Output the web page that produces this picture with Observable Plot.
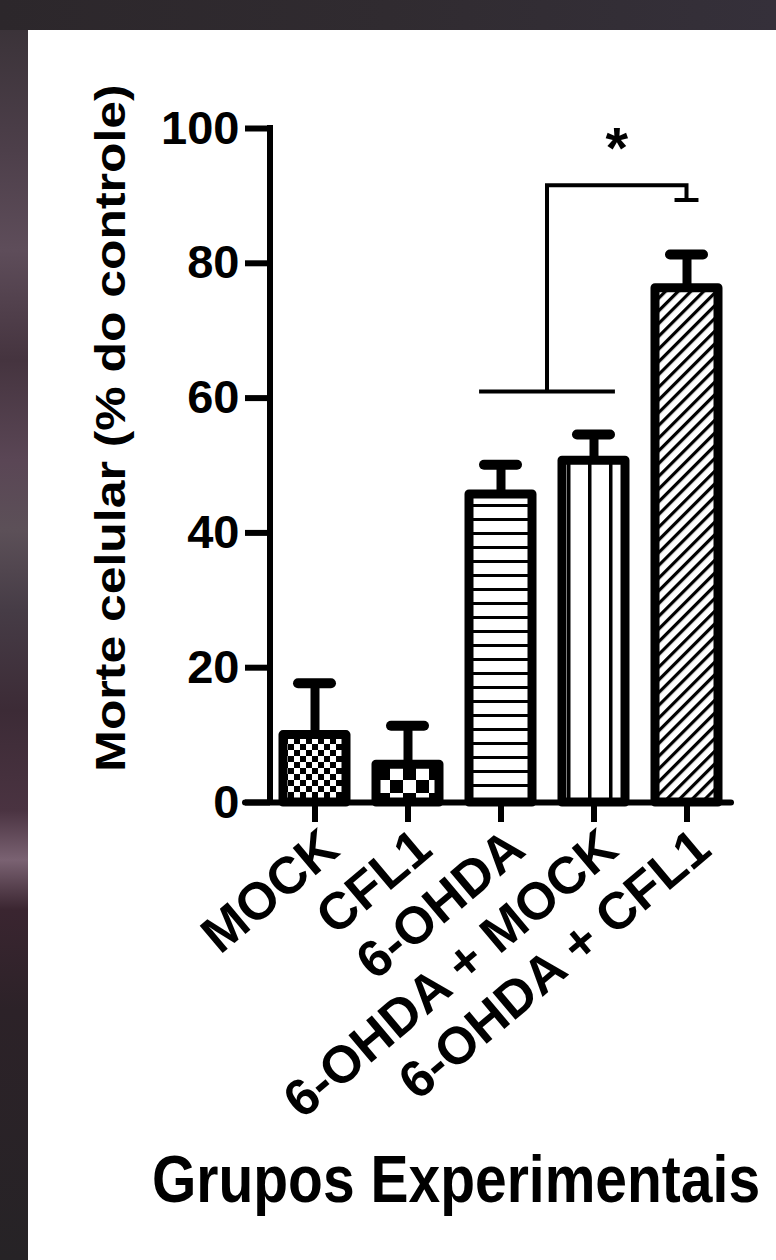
<!DOCTYPE html>
<html>
<head>
<meta charset="utf-8">
<script src="https://cdn.jsdelivr.net/npm/d3@7"></script>
<script src="https://cdn.jsdelivr.net/npm/@observablehq/plot@0.6"></script>
<style>
  html, body { margin: 0; padding: 0; width: 776px; height: 1260px; overflow: hidden; }
  body {
    position: relative;
    background: linear-gradient(90deg, #2c272b 0%, #302b30 50%, #35303a 100%);
    font-family: "Liberation Sans", Arial, sans-serif;
  }
  #leftstrip {
    position: absolute; left: 0; top: 30px; width: 28px; bottom: 0;
    background: linear-gradient(180deg,
      #3b3339 0px, #4d3f4a 120px, #5e4d5a 220px, #45343f 330px, #5a4655 430px,
      #5c5058 500px, #463c46 580px, #3c2b36 680px, #4a3341 780px, #7a6272 830px,
      #3a2530 880px, #2c2228 980px, #262326 1230px);
  }
  #panel { position: absolute; left: 28px; top: 30px; right: 0; bottom: 0; background: #ffffff; }
  #chart { position: absolute; left: 0; top: 0; }
  .ytitle {
    position: absolute; left: 110px; top: 428px; white-space: nowrap;
    font-weight: bold; font-size: 43px; line-height: 1; color: #000;
    transform: translate(-50%, -50%) rotate(-90deg) scaleX(1.16);
  }
  .xtitle {
    position: absolute; left: 456px; top: 1146px; white-space: nowrap;
    font-weight: bold; font-size: 57px; line-height: 57px; color: #000;
    transform-origin: 50% 0; transform: translate(-50%, 0) scaleY(1.17);
  }
</style>
</head>
<body>
<div id="leftstrip"></div>
<div id="panel"></div>
<div id="chart"></div>
<div class="ytitle">Morte celular (% do controle)</div>
<div class="xtitle">Grupos Experimentais</div>
<script>
// ---- data ----
const groups = ["MOCK", "CFL1", "6-OHDA", "6-OHDA + MOCK", "6-OHDA + CFL1"];
const means  = [10.0, 5.6, 45.7, 50.7, 76.3];
const errors = [7.7, 5.8, 4.4, 3.9, 5.0];
const yTicks = [0, 20, 40, 60, 80, 100];
const patternIds = ["pat-fine-check", "pat-coarse-check", "pat-hlines", "pat-vlines", "pat-diag"];

// significance bracket: (6-OHDA, 6-OHDA + MOCK) vs 6-OHDA + CFL1
const sigFrom = ["6-OHDA", "6-OHDA + MOCK"];
const sigTo = "6-OHDA + CFL1";
const sigLow = 60.9;   // lower horizontal bar
const sigTop = 91.5;   // upper horizontal bar
const sigEnd = 89.3;   // end of the right drop
const sigLabel = "*";

const data = groups.map((g, i) => ({
  group: g,
  mean: means[i],
  hi: means[i] + errors[i],
  pattern: `url(#${patternIds[i]})`
}));

// vertical y-axis line drawn through the y scale at the frame's left edge
function yAxisLine(index, scales, values, dims) {
  const y = scales.y;
  const x0 = dims.marginLeft;
  return d3.create("svg:path")
    .attr("fill", "none").attr("stroke", "black").attr("stroke-width", 6)
    .attr("stroke-linecap", "square")
    .attr("d", `M${x0},${y(d3.max(yTicks))}V${y(d3.min(yTicks))}`)
    .node();
}

function sigBracket(index, scales) {
  const x = scales.x, y = scales.y;
  const bw = typeof x.bandwidth === "function" ? x.bandwidth() : 0;
  const cx = (g) => x(g) + bw / 2;
  const xa = cx(sigFrom[0]), xb = cx(sigFrom[1]), xr = cx(sigTo);
  const xm = (xa + xb) / 2;
  const ext = bw * 0.34;
  const g = d3.create("svg:g");
  g.append("path")
    .attr("fill", "none").attr("stroke", "black").attr("stroke-width", 4)
    .attr("d",
      `M${xa - ext},${y(sigLow)}H${xb + ext}` +
      `M${xm},${y(sigLow)}V${y(sigTop)}H${xr}V${y(sigEnd)}` +
      `M${xr - bw * 0.19},${y(sigEnd)}H${xr + bw * 0.19}`);
  g.append("text")
    .attr("x", (xm + xr) / 2).attr("y", y(sigTop) - 17)
    .attr("text-anchor", "middle").attr("font-size", 58).attr("font-weight", "bold")
    .attr("fill", "black")
    .text(sigLabel);
  return g.node();
}

const plot = Plot.plot({
  width: 776,
  height: 1260,
  marginTop: 128,
  marginBottom: 458,
  marginLeft: 270,
  marginRight: 45,
  style: { background: "transparent", fontFamily: "'Liberation Sans', Arial, sans-serif", color: "black", overflow: "visible" },
  x: { domain: groups, paddingInner: 0.32, paddingOuter: 0.132, axis: null },
  y: { domain: [0, 100], axis: null },
  color: { type: "identity" },
  marks: [
    Plot.axisY({ ticks: yTicks, tickSize: 25, tickPadding: 6, strokeWidth: 6, fontSize: 47, fontWeight: "bold", label: null, tickFormat: (d) => String(d) }),
    yAxisLine,
    // x tick marks
    Plot.axisX({ tickSize: 20, strokeWidth: 6, tickFormat: () => "", label: null }),
    // x tick labels (rotated)
    Plot.axisX({ tickSize: 0, tickRotate: -40, tickPadding: 38, fontSize: 52, fontWeight: "bold", label: null, dx: 16 }),
    Plot.ruleY([0], { strokeWidth: 6, insetLeft: -25, strokeLinecap: "round" }),
    Plot.barY(data, { x: "group", y: "mean", fill: "pattern", stroke: "black", strokeWidth: 9, strokeLinejoin: "round" }),
    Plot.ruleX(data, { x: "group", y1: "mean", y2: "hi", stroke: "black", strokeWidth: 9 }),
    Plot.tickY(data, { x: "group", y: "hi", stroke: "black", strokeWidth: 10, strokeLinecap: "round", inset: 15 }),
    sigBracket
  ]
});

// fill patterns
const svg = plot.tagName.toLowerCase() === "svg" ? plot : plot.querySelector("svg");
const defs = d3.select(svg).insert("defs", ":first-child");
function pat(id, w, h, extra) {
  const p = defs.append("pattern").attr("id", id).attr("patternUnits", "userSpaceOnUse")
    .attr("width", w).attr("height", h);
  if (extra) p.attr("patternTransform", extra);
  p.append("rect").attr("width", w).attr("height", h).attr("fill", "white");
  return p;
}
let p = pat("pat-fine-check", 12, 12);
p.append("rect").attr("x", 0).attr("y", 0).attr("width", 6).attr("height", 6).attr("fill", "black");
p.append("rect").attr("x", 6).attr("y", 6).attr("width", 6).attr("height", 6).attr("fill", "black");
p = pat("pat-coarse-check", 26, 26);
p.append("rect").attr("x", 0).attr("y", 0).attr("width", 13).attr("height", 13).attr("fill", "black");
p.append("rect").attr("x", 13).attr("y", 13).attr("width", 13).attr("height", 13).attr("fill", "black");
p = pat("pat-hlines", 10, 14);
p.append("rect").attr("x", 0).attr("y", 0).attr("width", 10).attr("height", 3).attr("fill", "black");
p = pat("pat-vlines", 21, 10);
p.append("rect").attr("x", 0).attr("y", 0).attr("width", 3.5).attr("height", 10).attr("fill", "black");
p = pat("pat-diag", 9, 9, "rotate(45)");
p.append("rect").attr("x", 0).attr("y", 0).attr("width", 3.2).attr("height", 9).attr("fill", "black");

document.getElementById("chart").append(plot);
</script>
</body>
</html>
